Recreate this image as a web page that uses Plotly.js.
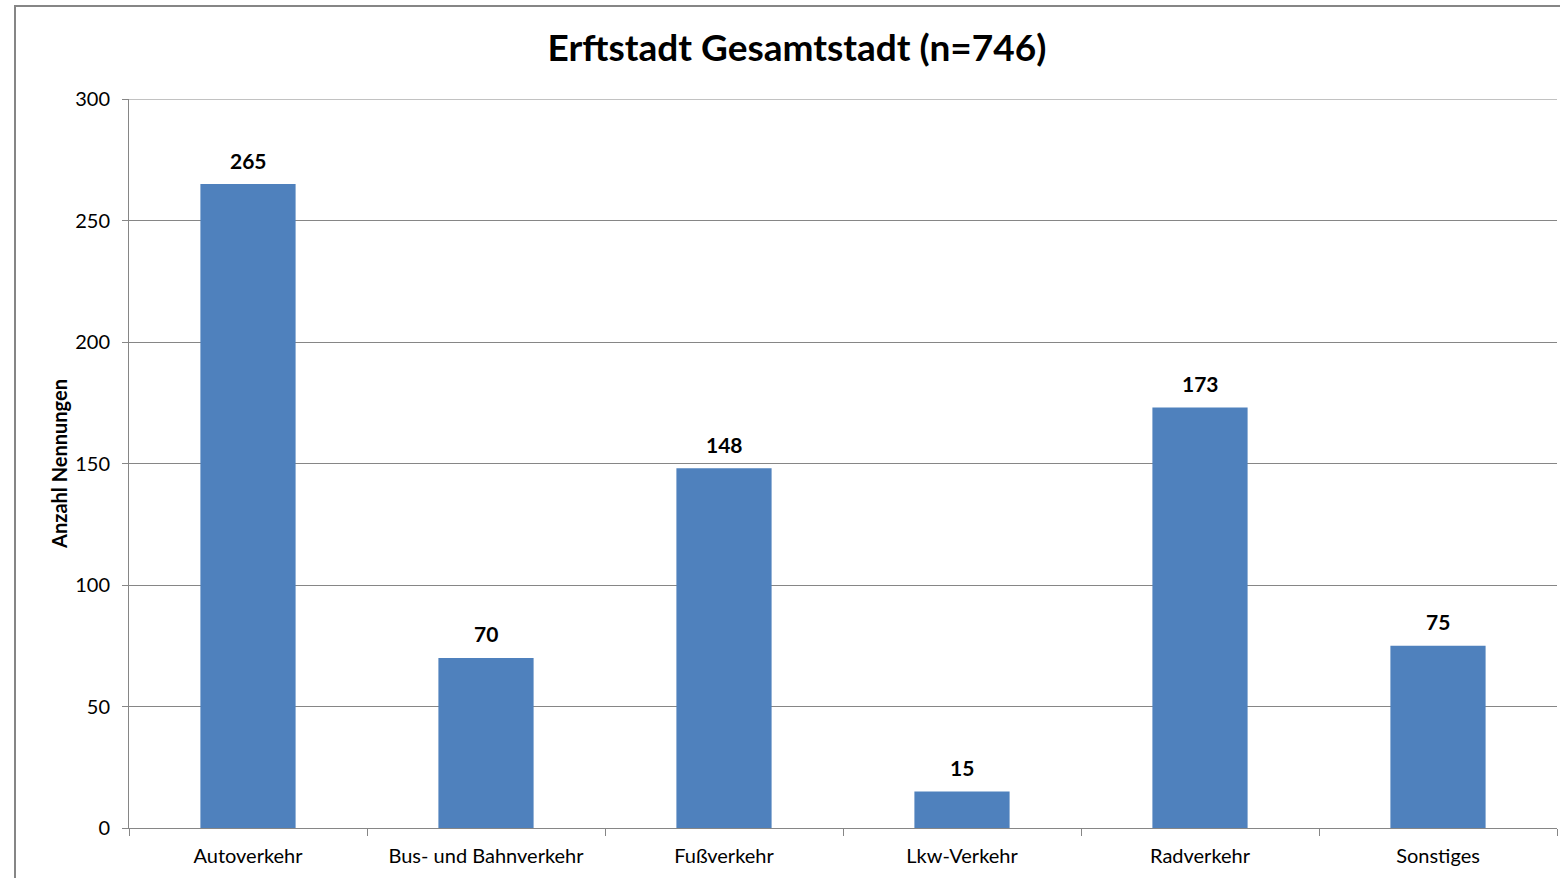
<!DOCTYPE html>
<html><head><meta charset="utf-8">
<script src="https://cdn.plot.ly/plotly-3.0.1.min.js"></script>
<style>html,body{margin:0;padding:0;background:#fff;overflow:hidden}#c{width:1560px;height:878px}</style>
</head><body><div id="c"></div>
<script>
const categories = ["Autoverkehr","Bus- und Bahnverkehr","Fußverkehr","Lkw-Verkehr","Radverkehr","Sonstiges"];
const values = [265, 70, 148, 15, 173, 75];
const yTicks = [0, 50, 100, 150, 200, 250, 300];

const L=129, R=1557, T=99, B=828;
const pw=R-L, ph=B-T;
const font = "Lato, 'Open Sans', sans-serif";
const data=[{
  type:'bar', x:categories, y:values,
  marker:{color:'#4F81BD'},
  hoverinfo:'skip'
}];
const annotations = categories.map((c,i)=>({
  x:c, y:values[i], xref:'x', yref:'y', text:'<b>'+values[i]+'</b>', showarrow:false,
  yanchor:'middle', yshift:24, font:{family:font,size:21,color:'#000'}
}));
const layout={
  width:1560,height:878,
  margin:{l:L,r:1560-R,t:T,b:878-B,pad:0},
  paper_bgcolor:'#fff',plot_bgcolor:'#fff',
  bargap:0.6,
  showlegend:false,
  title:{text:'<b>Erftstadt Gesamtstadt (n=746)</b>',font:{family:font,size:37,color:'#000'},x:(797-L)/pw,xref:'paper',xanchor:'center',y:1-48/878,yanchor:'middle'},
  xaxis:{type:'category',tickson:'boundaries',ticks:'outside',ticklen:7,tickcolor:'#868686',showline:true,linecolor:'#868686',linewidth:1,showgrid:false,
    ticklabelstandoff:10,
    tickfont:{family:font,size:20,color:'#000'},fixedrange:true},
  yaxis:{range:[0,300],tickvals:yTicks,ticktext:yTicks.map(String),ticks:'outside',ticklen:6,tickcolor:'#868686',showline:true,linecolor:'#868686',
    showgrid:true,gridcolor:'#868686',gridwidth:1,zeroline:false,ticklabelstandoff:8,
    tickfont:{family:font,size:20,color:'#000'},
    title:{text:'<b>Anzahl Nennungen</b>',font:{family:font,size:20,color:'#000'},standoff:2},fixedrange:true},
  annotations:annotations,
  shapes:[{type:'line',xref:'paper',yref:'y',x0:0,x1:1,y0:300,y1:300,line:{color:'#868686',width:1}},
          {type:'line',xref:'paper',yref:'paper',x0:(15-L)/pw,x1:(15-L)/pw,y0:(B-5)/ph,y1:(B-900)/ph,line:{color:'#868686',width:2}},
          {type:'line',xref:'paper',yref:'paper',x0:(15-L)/pw,x1:(1600-L)/pw,y0:(B-6)/ph,y1:(B-6)/ph,line:{color:'#868686',width:2}}]
};
Plotly.newPlot('c',data,layout,{displayModeBar:false,staticPlot:true});
</script></body></html>
